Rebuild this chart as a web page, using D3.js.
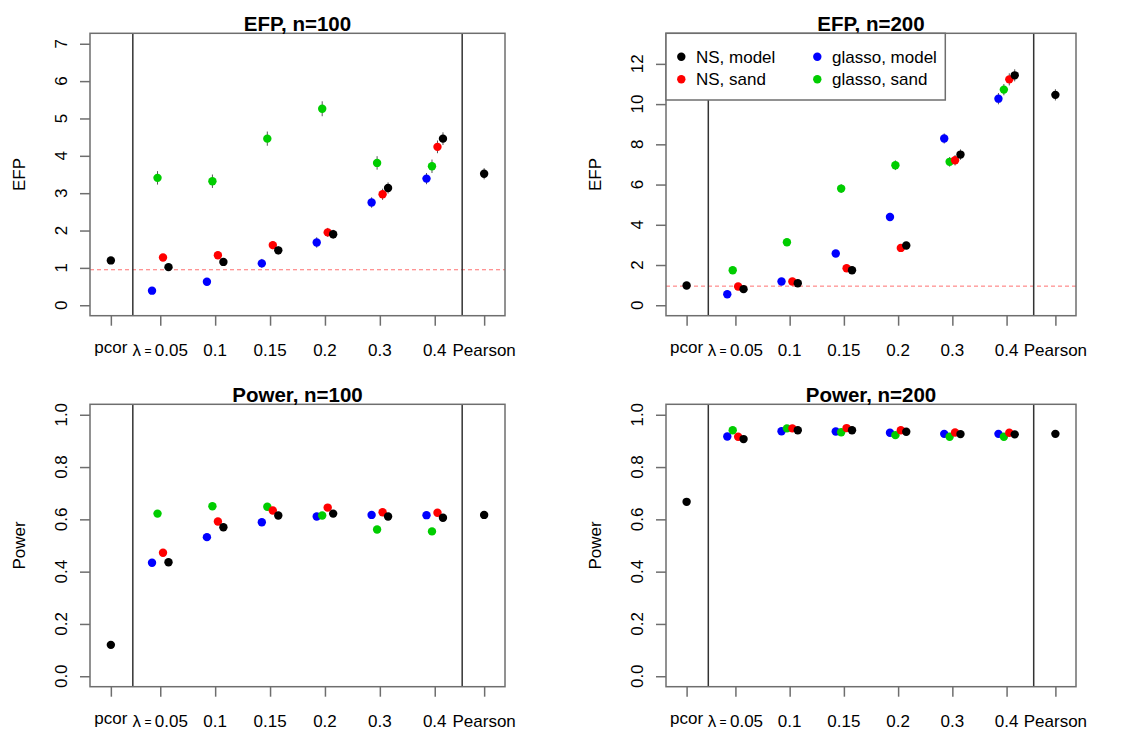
<!DOCTYPE html>
<html>
<head>
<meta charset="utf-8">
<script src="https://cdn.jsdelivr.net/npm/d3@7"></script>
<style>
  body { margin: 0; background: #fff; }
  svg { font-family: "Liberation Sans", Arial, Helvetica, sans-serif; }
</style>
</head>
<body>
<div id="chart"></div>
<script>
// ---- data ----
const lambdaLabels = ["0.05", "0.1", "0.15", "0.2", "0.3", "0.4"];
const seriesNames = ["glasso, model", "glasso, sand", "NS, sand", "NS, model"];
const seriesColors = ["#0000FF", "#00CD00", "#FF0000", "#000000"];
const legendOrder = ["NS, model", "NS, sand", "glasso, model", "glasso, sand"];

// EFP, n=100
const efp100_glModel = [0.39, 0.63, 1.12, 1.68, 2.75, 3.39];
const efp100_glSand = [3.41, 3.32, 4.46, 5.26, 3.81, 3.72];
const efp100_nsSand = [1.28, 1.34, 1.61, 1.95, 2.97, 4.24];
const efp100_nsModel = [1.02, 1.16, 1.47, 1.90, 3.14, 4.46];
const efp100_se_gl = [0.08, 0.10, 0.12, 0.14, 0.14, 0.15];
const efp100_se_glSand = [0.18, 0.18, 0.19, 0.2, 0.18, 0.18];
const efp100_se_ns = [0.09, 0.1, 0.11, 0.12, 0.15, 0.17];
const efp100_pcor = 1.2, efp100_pearson = 3.52, efp100_se_ends = [0.09, 0.15];

// EFP, n=200
const efp200_glModel = [0.55, 1.18, 2.57, 4.39, 8.29, 10.27];
const efp200_glSand = [1.74, 3.13, 5.80, 6.96, 7.13, 10.72];
const efp200_nsSand = [0.93, 1.18, 1.84, 2.85, 7.21, 11.23];
const efp200_nsModel = [0.80, 1.09, 1.74, 2.97, 7.49, 11.43];
const efp200_se_gl = [0.1, 0.12, 0.16, 0.2, 0.25, 0.28];
const efp200_se_glSand = [0.14, 0.18, 0.22, 0.24, 0.24, 0.28];
const efp200_se_ns = [0.1, 0.12, 0.15, 0.18, 0.26, 0.3];
const efp200_pcor = 0.98, efp200_pearson = 10.46, efp200_se_ends = [0.12, 0.28];

// Power, n=100
const pow100_glModel = [0.434, 0.532, 0.589, 0.611, 0.617, 0.616];
const pow100_glSand = [0.622, 0.650, 0.648, 0.615, 0.561, 0.554];
const pow100_nsSand = [0.472, 0.592, 0.634, 0.645, 0.627, 0.625];
const pow100_nsModel = [0.436, 0.570, 0.615, 0.622, 0.611, 0.606];
const pow100_pcor = 0.12, pow100_pearson = 0.617;

// Power, n=200
const pow200_glModel = [0.917, 0.937, 0.936, 0.931, 0.927, 0.927];
const pow200_glSand = [0.941, 0.948, 0.933, 0.922, 0.916, 0.916];
const pow200_nsSand = [0.916, 0.948, 0.949, 0.941, 0.932, 0.931];
const pow200_nsModel = [0.907, 0.941, 0.941, 0.935, 0.926, 0.925];
const pow200_pcor = 0.667, pow200_pearson = 0.927;

const nominalEFP = 0.95;

const panels = [
  { title: "EFP, n=100", ylab: "EFP", box: [90, 505, 33.3, 315.7], ylim: [0, 7], yticks: d3.range(0, 8, 1), fmt: d3.format("d"),
    series: [efp100_glModel, efp100_glSand, efp100_nsSand, efp100_nsModel],
    se: [efp100_se_gl, efp100_se_glSand, efp100_se_ns, efp100_se_ns],
    pcor: efp100_pcor, pearson: efp100_pearson, seEnds: efp100_se_ends, hline: nominalEFP, legend: false },
  { title: "EFP, n=200", ylab: "EFP", box: [666, 1076, 33.3, 315.7], ylim: [0, 13], yticks: d3.range(0, 13, 2), fmt: d3.format("d"),
    series: [efp200_glModel, efp200_glSand, efp200_nsSand, efp200_nsModel],
    se: [efp200_se_gl, efp200_se_glSand, efp200_se_ns, efp200_se_ns],
    pcor: efp200_pcor, pearson: efp200_pearson, seEnds: efp200_se_ends, hline: nominalEFP, legend: true },
  { title: "Power, n=100", ylab: "Power", box: [90, 505, 404.3, 686.7], ylim: [0, 1], yticks: d3.range(0, 1.01, 0.2), fmt: d3.format(".1f"),
    series: [pow100_glModel, pow100_glSand, pow100_nsSand, pow100_nsModel],
    se: null, pcor: pow100_pcor, pearson: pow100_pearson, seEnds: null, hline: null, legend: false },
  { title: "Power, n=200", ylab: "Power", box: [666, 1076, 404.3, 686.7], ylim: [0, 1], yticks: d3.range(0, 1.01, 0.2), fmt: d3.format(".1f"),
    series: [pow200_glModel, pow200_glSand, pow200_nsSand, pow200_nsModel],
    se: null, pcor: pow200_pcor, pearson: pow200_pearson, seEnds: null, hline: null, legend: false }
];

// x positions in plot units: pcor, lambda groups 1..6, Pearson
const X_PCOR = 0.1, X_PEARSON = 6.9;
const OFFSETS = [-0.15, -0.05, 0.05, 0.15];
const VLINES = [0.5, 6.5];
const R = 4.2;
const BOXCOL = "#6e6e6e";

const svg = d3.select("#chart").append("svg")
  .attr("width", 1132).attr("height", 731);

function ext(lim) { // R's 4% axis extension
  const d = (lim[1] - lim[0]) * 0.04;
  return [lim[0] - d, lim[1] + d];
}

panels.forEach(function(p) {
  const [x0, x1, y0, y1] = p.box;
  const x = d3.scaleLinear().domain(ext([0, 7])).range([x0, x1]);
  const y = d3.scaleLinear().domain(ext(p.ylim)).range([y1, y0]);
  const g = svg.append("g");

  // nominal level line
  if (p.hline != null) {
    g.append("line")
      .attr("x1", x0).attr("x2", x1)
      .attr("y1", y(p.hline)).attr("y2", y(p.hline))
      .attr("stroke", "#ff7070").attr("stroke-width", 1)
      .attr("stroke-dasharray", "4,3");
  }

  // separators
  g.selectAll(".vline").data(VLINES).enter().append("line")
    .attr("x1", d => x(d)).attr("x2", d => x(d))
    .attr("y1", y0).attr("y2", y1)
    .attr("stroke", "#333").attr("stroke-width", 1.5);

  // points: lambda groups
  const pts = [];
  p.series.forEach(function(vals, s) {
    vals.forEach(function(v, i) {
      pts.push({ x: i + 1 + OFFSETS[s], v: v, se: p.se ? p.se[s][i] : 0, col: seriesColors[s] });
    });
  });
  pts.push({ x: X_PCOR, v: p.pcor, se: p.seEnds ? p.seEnds[0] : 0, col: "#000" });
  pts.push({ x: X_PEARSON, v: p.pearson, se: p.seEnds ? p.seEnds[1] : 0, col: "#000" });

  g.selectAll(".err").data(pts.filter(d => d.se > 0)).enter().append("line")
    .attr("x1", d => x(d.x)).attr("x2", d => x(d.x))
    .attr("y1", d => y(d.v - d.se)).attr("y2", d => y(d.v + d.se))
    .attr("stroke", "#555").attr("stroke-width", 1);

  g.selectAll(".pt").data(pts).enter().append("circle")
    .attr("cx", d => x(d.x)).attr("cy", d => y(d.v))
    .attr("r", R).attr("fill", d => d.col);

  // box
  g.append("rect")
    .attr("x", x0).attr("y", y0).attr("width", x1 - x0).attr("height", y1 - y0)
    .attr("fill", "none").attr("stroke", BOXCOL).attr("stroke-width", 1.5);

  // x axis ticks
  const xticks = [X_PCOR].concat(d3.range(1, 7), [X_PEARSON]);
  const xAxis = d3.axisBottom(x).tickValues(xticks).tickSize(10).tickSizeOuter(0).tickFormat("");
  const xg = g.append("g").attr("transform", "translate(0," + y1 + ")").call(xAxis);
  xg.select(".domain").remove();
  xg.selectAll(".tick line").attr("stroke", BOXCOL).attr("stroke-width", 1.5);

  const labY = y1 + 40;
  g.append("text").attr("x", x(X_PCOR)).attr("y", labY - 2.5)
    .attr("text-anchor", "middle").attr("font-size", 17).text("pcor");
  const lam = g.append("text").attr("x", x(1)).attr("y", labY)
    .attr("text-anchor", "middle").attr("font-size", 17);
  lam.append("tspan").attr("font-size", 17).attr("dy", 0.5).text("λ");
  lam.append("tspan").attr("font-size", 12).attr("dy", -1.5).text(" = ");
  lam.append("tspan").attr("dy", 1).text("0.05");
  g.selectAll(".xl").data(lambdaLabels.slice(1)).enter().append("text")
    .attr("x", (d, i) => x(i + 2)).attr("y", labY)
    .attr("text-anchor", "middle").attr("font-size", 17).text(d => d);
  g.append("text").attr("x", x(X_PEARSON)).attr("y", labY)
    .attr("text-anchor", "middle").attr("font-size", 17).text("Pearson");

  // y axis ticks
  const yAxis = d3.axisLeft(y).tickValues(p.yticks).tickSize(10).tickSizeOuter(0).tickFormat("");
  const yg = g.append("g").attr("transform", "translate(" + x0 + ",0)").call(yAxis);
  yg.select(".domain").remove();
  yg.selectAll(".tick line").attr("stroke", BOXCOL).attr("stroke-width", 1.5);

  g.selectAll(".yl").data(p.yticks).enter().append("text")
    .attr("transform", d => "translate(" + (x0 - 23.5) + "," + y(d) + ") rotate(-90)")
    .attr("text-anchor", "middle").attr("font-size", 17).text(d => p.fmt(d));

  // y label
  g.append("text")
    .attr("transform", "translate(" + (x0 - 65) + "," + ((y0 + y1) / 2) + ") rotate(-90)")
    .attr("text-anchor", "middle").attr("font-size", 17).text(p.ylab);

  // title
  g.append("text").attr("x", (x0 + x1) / 2).attr("y", y0 - 2)
    .attr("text-anchor", "middle").attr("font-size", 20.5).attr("font-weight", "bold")
    .text(p.title);

  // legend
  if (p.legend) {
    const lg = g.append("g");
    lg.append("rect").attr("x", x0).attr("y", y0).attr("width", 279.3).attr("height", 66.7)
      .attr("fill", "#fff").attr("stroke", BOXCOL).attr("stroke-width", 1.5);
    const items = legendOrder.map(function(name, i) {
      return { name: name, col: seriesColors[seriesNames.indexOf(name)], c: Math.floor(i / 2), r: i % 2 };
    });
    const ent = lg.selectAll(".le").data(items).enter().append("g")
      .attr("transform", d => "translate(" + (x0 + 15.3 + d.c * 136) + "," + (y0 + 23.4 + d.r * 22.6) + ")");
    ent.append("circle").attr("r", R).attr("fill", d => d.col);
    ent.append("text").attr("x", 14.7).attr("y", 6).attr("font-size", 17).text(d => d.name);
  }
});
</script>
</body>
</html>
